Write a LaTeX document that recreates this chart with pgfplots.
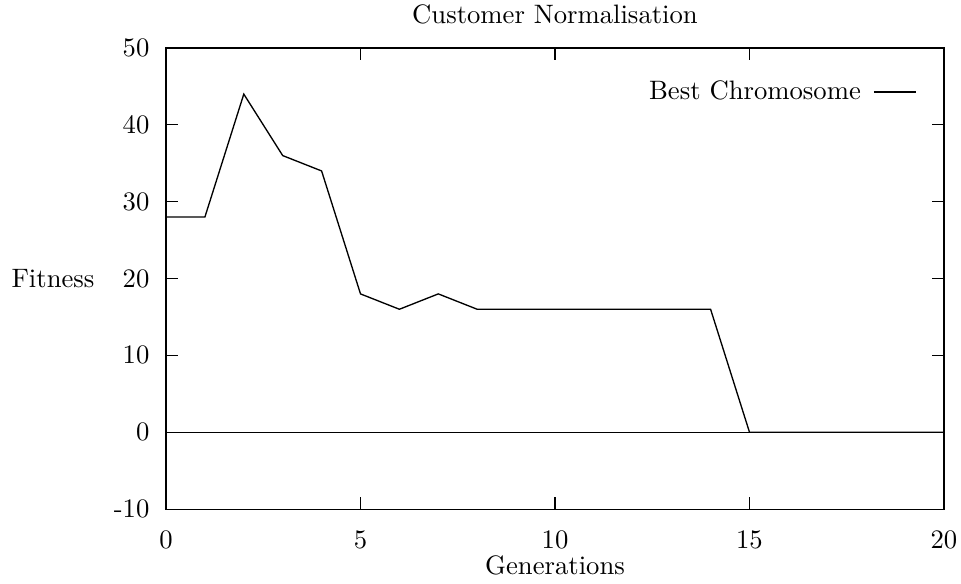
\documentclass[border=0pt]{standalone}
\usepackage{pgfplots}
\pgfplotsset{compat=1.18}
\begin{document}
\begin{tikzpicture}
\begin{axis}[
  name=ax,
  scale only axis,
  width=291.75pt, height=172.9pt,
  xmin=0, xmax=20, ymin=-10, ymax=50,
  xtick={0,5,10,15,20},
  ytick={-10,0,10,20,30,40,50},
  yticklabels={-10,0,10,20,30,40,50},
  xticklabels={0,5,10,15,20},
  tick align=inside,
  major tick length=4.5pt,
  tick style={black, line width=0.4pt},
  axis line style={line width=0.4pt},
  yticklabel style={xshift=-2.7pt},
  xticklabel style={yshift=-4.6pt},
  title={Customer Normalisation},
  title style={at={(axis description cs:0.5,1)}, anchor=south, yshift=-0.75pt},
  xlabel={Generations},
  xlabel style={at={(axis description cs:0.5,0)}, anchor=north, yshift=-14pt},
  ylabel={Fitness},
  ylabel style={at={(axis description cs:0,0.5)}, anchor=east, rotate=-90, xshift=-23.3pt},
  legend style={at={(axis description cs:0.9653,0.9046)}, anchor=east, draw=none, fill=none, inner sep=0pt, cells={anchor=east}},
  legend plot pos=right,
  legend image code/.code={\path (0pt,0pt); \draw[#1] (2.6pt,0cm) -- (18.35pt,0cm);},
]
\addplot[black, line width=0.5pt] coordinates {
(0,28) (1,28) (2,44) (3,36) (4,34) (5,18) (6,16) (7,18) (8,16) (9,16) (10,16)
(11,16) (12,16) (13,16) (14,16) (15,0) (16,0) (17,0) (18,0) (19,0) (20,0)};
\addlegendentry{Best Chromosome}
\addplot[black, line width=0.4pt, forget plot] coordinates {(0,0) (20,0)};
\end{axis}
\pgfresetboundingbox
\path ([shift={(-62.25pt,-27.75pt)}]ax.south west) rectangle ([shift={(6.375pt,18pt)}]ax.north east);
\end{tikzpicture}
\end{document}
